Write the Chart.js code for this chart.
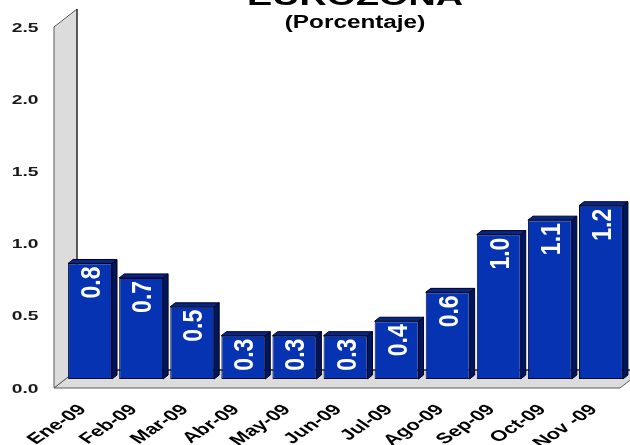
<!DOCTYPE html>
<html>
<head>
<meta charset="utf-8">
<script src="https://cdn.jsdelivr.net/npm/chart.js@4.4.1/dist/chart.umd.min.js"></script>
<style>
    html, body { margin: 0; padding: 0; background: #ffffff; }
    #wrap { width: 630px; height: 445px; }
</style>
</head>
<body>
<div id="wrap"><canvas id="myChart" width="630" height="445"></canvas></div>
<script>
const categories = ['Ene-09', 'Feb-09', 'Mar-09', 'Abr-09', 'May-09', 'Jun-09', 'Jul-09', 'Ago-09', 'Sep-09', 'Oct-09', 'Nov -09'];
const values = [0.8, 0.7, 0.5, 0.3, 0.3, 0.3, 0.4, 0.6, 1.0, 1.1, 1.2];
const yTicks = [0, 0.5, 1.0, 1.5, 2.0, 2.5];
const titleText = 'EUROZONA';
const subtitleText = '(Porcentaje)';

const FONT = '"Liberation Sans", Arial, sans-serif';
// the original picture is stretched sideways, so text is widened to match
const STRETCH = 1.48;
const FRONT = { dx: -10.5, dy: 9 };
const BACK = { dx: 12.5, dy: -9 };
const BAR_DEPTH = { dx: 5, dy: -4 };

const scene3d = {
    id: 'scene3d',
    beforeDatasetsDraw(chart) {
        const { ctx, chartArea } = chart;
        const yScale = chart.scales.y;
        const L = chartArea.left;
        const R = chartArea.right;
        const B = yScale.getPixelForValue(0);
        const T = yScale.getPixelForValue(yTicks[yTicks.length - 1]);

        ctx.save();
        ctx.fillStyle = '#dcdcdc';
        ctx.strokeStyle = '#5a5a5a';
        ctx.lineWidth = 1;

        // floor
        ctx.beginPath();
        ctx.moveTo(L + FRONT.dx, B + FRONT.dy);
        ctx.lineTo(R - 6.5, B + FRONT.dy);
        ctx.lineTo(R + 16.5, B + BACK.dy);
        ctx.lineTo(L + BACK.dx, B + BACK.dy);
        ctx.closePath();
        ctx.fill();
        ctx.stroke();

        // left wall
        ctx.beginPath();
        ctx.moveTo(L + FRONT.dx, B + FRONT.dy);
        ctx.lineTo(L + FRONT.dx, T + FRONT.dy);
        ctx.lineTo(L + BACK.dx, T + BACK.dy);
        ctx.lineTo(L + BACK.dx, B + BACK.dy);
        ctx.closePath();
        ctx.fill();
        ctx.stroke();

        // back edge of the floor
        ctx.strokeStyle = '#111111';
        ctx.beginPath();
        ctx.moveTo(L + BACK.dx, B + BACK.dy);
        ctx.lineTo(chart.width, B + BACK.dy);
        ctx.stroke();
        ctx.beginPath();
        ctx.moveTo(L + BACK.dx, T + BACK.dy);
        ctx.lineTo(L + BACK.dx, B + BACK.dy);
        ctx.stroke();
        ctx.restore();
    },
    afterDatasetsDraw(chart) {
        const { ctx } = chart;
        const meta = chart.getDatasetMeta(0);

        ctx.save();
        ctx.lineWidth = 1;
        ctx.strokeStyle = '#000020';
        meta.data.forEach((bar, i) => {
            const left = bar.x - bar.width / 2;
            const right = bar.x + bar.width / 2;
            const top = bar.y;
            const base = bar.base;

            // side face
            ctx.fillStyle = '#00155c';
            ctx.beginPath();
            ctx.moveTo(right, top);
            ctx.lineTo(right + BAR_DEPTH.dx, top + BAR_DEPTH.dy);
            ctx.lineTo(right + BAR_DEPTH.dx, base + BAR_DEPTH.dy);
            ctx.lineTo(right, base);
            ctx.closePath();
            ctx.fill();
            ctx.stroke();

            // top face
            ctx.fillStyle = '#062684';
            ctx.beginPath();
            ctx.moveTo(left, top);
            ctx.lineTo(left + BAR_DEPTH.dx, top + BAR_DEPTH.dy);
            ctx.lineTo(right + BAR_DEPTH.dx, top + BAR_DEPTH.dy);
            ctx.lineTo(right, top);
            ctx.closePath();
            ctx.fill();
            ctx.stroke();

            // value label, reading bottom to top
            ctx.save();
            ctx.translate(bar.x, top + 3);
            ctx.scale(1.22, 1);
            ctx.rotate(-Math.PI / 2);
            ctx.fillStyle = '#ffffff';
            ctx.font = 'bold 23px ' + FONT;
            ctx.textAlign = 'right';
            ctx.textBaseline = 'alphabetic';
            ctx.fillText(values[i].toFixed(1), 0, 8.2);
            ctx.restore();
        });
        ctx.restore();
    },
    afterDraw(chart) {
        const { ctx, chartArea } = chart;
        const xScale = chart.scales.x;
        const yScale = chart.scales.y;

        ctx.save();
        ctx.fillStyle = '#1a1a1a';

        // y tick labels, on the front plane of the wall
        ctx.font = 'bold 13px ' + FONT;
        ctx.textAlign = 'right';
        ctx.textBaseline = 'middle';
        yTicks.forEach(v => {
            ctx.save();
            ctx.translate(chartArea.left - 26, yScale.getPixelForValue(v) + 10);
            ctx.scale(STRETCH, 1);
            ctx.fillText(v.toFixed(1), 0, 0);
            ctx.restore();
        });

        // x labels
        ctx.fillStyle = '#000000';
        ctx.font = 'bold 15px ' + FONT;
        ctx.textAlign = 'right';
        ctx.textBaseline = 'top';
        categories.forEach((label, i) => {
            ctx.save();
            ctx.translate(xScale.getPixelForValue(i) - 15, 402);
            ctx.scale(STRETCH, 1);
            ctx.rotate(-Math.PI / 4);
            ctx.fillText(label, 0, 0);
            ctx.restore();
        });

        // title, cut off by the top edge
        ctx.textAlign = 'center';
        ctx.textBaseline = 'alphabetic';
        ctx.save();
        ctx.translate(355, 5);
        ctx.scale(STRETCH, 1);
        ctx.font = 'bold 25.5px ' + FONT;
        ctx.fillText(titleText, 0, 0);
        ctx.restore();

        ctx.save();
        ctx.translate(355, 28);
        ctx.scale(1.35, 1);
        ctx.font = 'bold 18px ' + FONT;
        ctx.fillText(subtitleText, 0, 0);
        ctx.restore();

        ctx.restore();
    },
};

const ctx = document.getElementById('myChart').getContext('2d');
new Chart(ctx, {
    type: 'bar',
    data: {
        labels: categories,
        datasets: [{
            data: values,
            backgroundColor: '#0533b2',
            borderColor: '#000a30',
            borderWidth: 1,
            borderSkipped: false,
            barPercentage: 0.86,
            categoryPercentage: 1,
        }],
    },
    options: {
        responsive: false,
        animation: false,
        devicePixelRatio: 1,
        layout: {
            padding: { left: 64.5, right: 3.5, top: 18, bottom: 66 },
        },
        plugins: {
            legend: { display: false },
            tooltip: { enabled: false },
        },
        scales: {
            x: { display: false },
            y: { display: false, min: 0, max: 2.5 },
        },
    },
    plugins: [scene3d],
});
</script>
</body>
</html>
